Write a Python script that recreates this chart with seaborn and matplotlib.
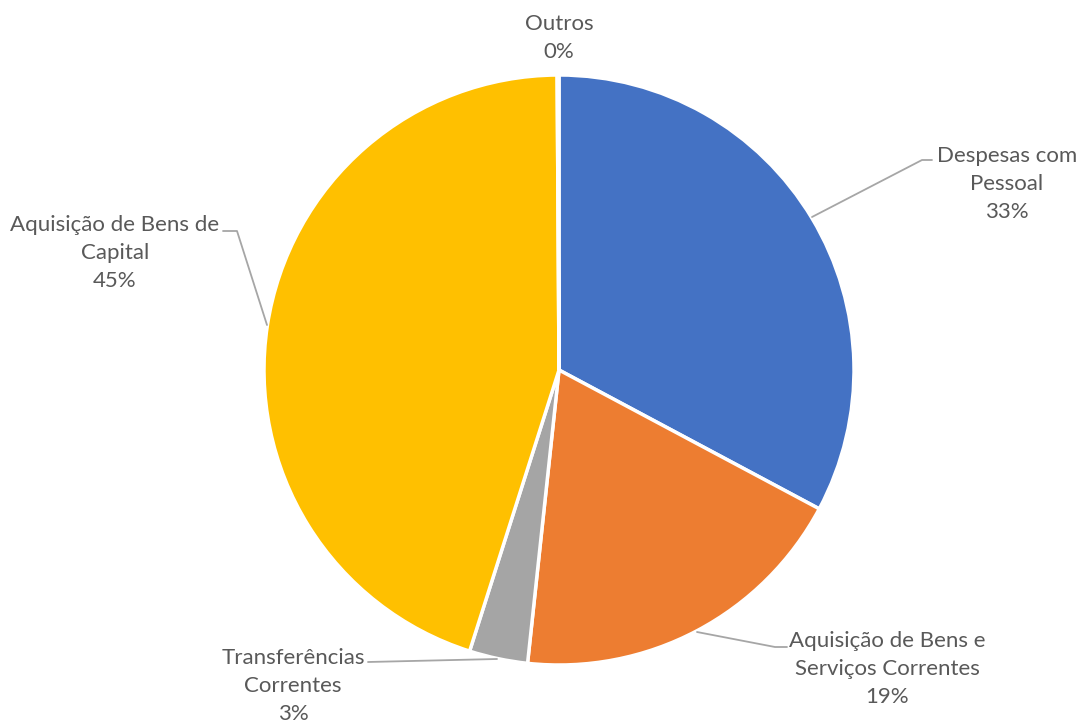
import matplotlib.pyplot as plt
import seaborn as sns

# ---------------------------------------------------------
# data
# ---------------------------------------------------------
categories = [
    "Despesas com\nPessoal",
    "Aquisição de Bens e\nServiços Correntes",
    "Transferências\nCorrentes",
    "Aquisição de Bens de\nCapital",
    "Outros",
]
shares = [32.8, 18.9, 3.2, 45.0, 0.1]
colors = ["#4472C4", "#ED7D31", "#A5A5A5", "#FFC000", "#5B9BD5"]

# ---------------------------------------------------------
# figure in pixel coordinates
# ---------------------------------------------------------
sns.set_theme(style="white")
plt.rcParams["font.family"] = ["Lato", "DejaVu Sans"]

W, H = 1082, 724
fig = plt.figure(figsize=(W / 100, H / 100), dpi=100)
ax = fig.add_axes([0, 0, 1, 1])


def fy(y):
    return H - y


ax.pie(
    shares,
    colors=colors,
    startangle=90,
    counterclock=False,
    center=(559, fy(370)),
    radius=295,
    wedgeprops=dict(edgecolor="white", linewidth=2.5),
    frame=True,
)
ax.set_xlim(0, W)
ax.set_ylim(0, H)
ax.set_aspect("equal")
ax.axis("off")

# label positions (centre of the text block) and leader lines
label_pos = [(1007, 184), (887, 669), (293, 686), (115, 253), (559, 38)]
leaders = [
    [(812, 217), (922, 160), (932, 160)],
    [(697, 632), (775, 647), (787, 647)],
    [(497, 659), (368, 662)],
    [(267, 325), (237, 231), (223, 231)],
    None,
]

for name, val, (x, y), line in zip(categories, shares, label_pos, leaders):
    ax.text(
        x, fy(y), f"{name}\n{round(val):.0f}%",
        ha="center", va="center", multialignment="center",
        fontsize=16, color="#595959", linespacing=1.5,
    )
    if line:
        xs = [p[0] for p in line]
        ys = [fy(p[1]) for p in line]
        ax.plot(xs, ys, color="#A6A6A6", linewidth=1.3)

fig.savefig("out.png", dpi=100)
